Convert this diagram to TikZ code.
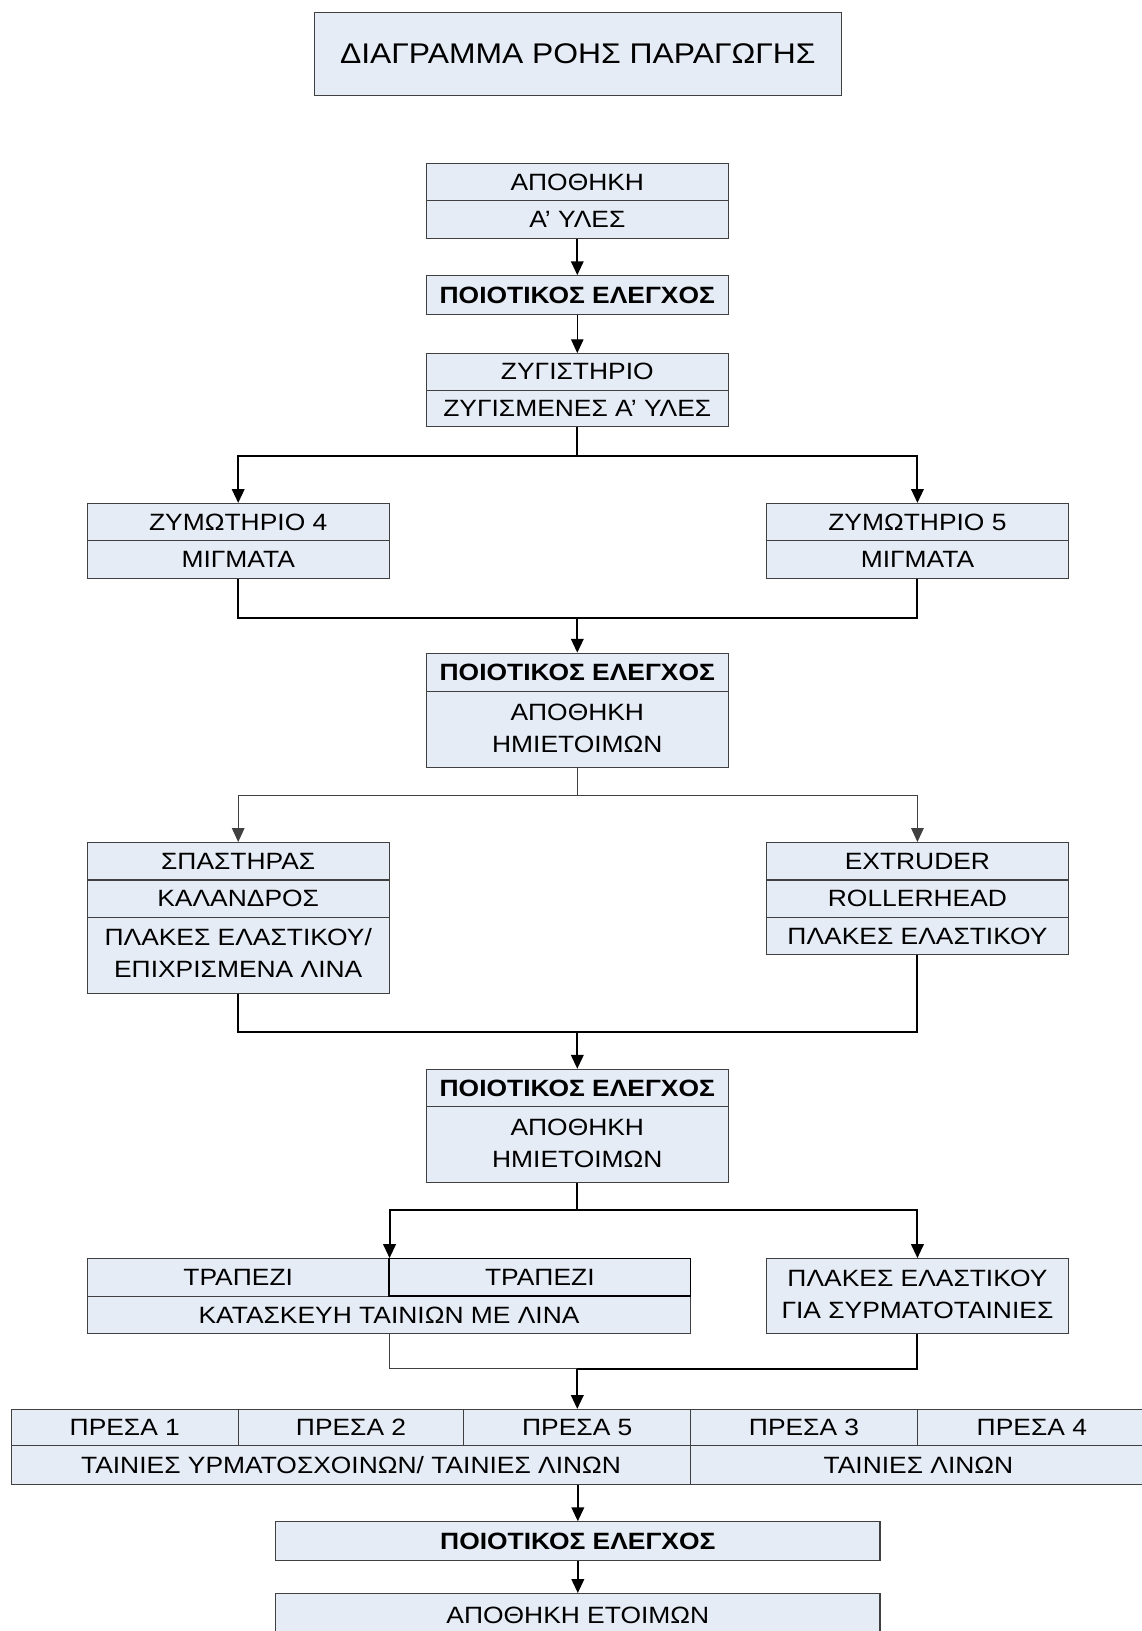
\documentclass[tikz,border=0pt]{standalone}
\usepackage{fontspec}
\setmainfont{Liberation Sans}[FakeStretch=1.12]
\usetikzlibrary{arrows.meta}
\definecolor{cellfill}{HTML}{E6ECF6}
\definecolor{cellline}{HTML}{404040}
\newcommand\twolines[2]{\begin{tabular}{@{}c@{}}#1\\#2\end{tabular}}
\begin{document}
\begin{tikzpicture}[x=0.75pt,y=0.75pt,
  cell/.style={draw=cellline, line width=0.75pt, fill=cellfill, inner sep=0pt,
    font=\fontsize{17}{23.25}\selectfont},
  qcell/.style={cell, font=\fontsize{17}{23.25}\selectfont\bfseries},
  sz/.style 2 args={minimum width=#1*0.75pt, minimum height=#2*0.75pt},
  flowthick/.style={draw=black, line width=1.5pt},
  flowthin/.style={draw=cellline, line width=0.75pt},
  tipend/.style={-{Triangle[length=10pt,width=9pt]}},
  tipboth/.style={{Triangle[length=10pt,width=9pt]}-{Triangle[length=10pt,width=9pt]}}
]
\useasboundingbox (0,0) rectangle (1097,-1568);

% title
\node[cell, sz={507}{80}, font=\fontsize{20.5}{24}\selectfont] (title) at (555.5,-52) {ΔΙΑΓΡΑΜΜΑ ΡΟΗΣ ΠΑΡΑΓΩΓΗΣ};

% raw materials
\node[cell, sz={290}{36}] (b1a) at (555,-175) {ΑΠΟΘΗΚΗ};
\node[cell, sz={290}{36}] (b1b) at (555,-211) {Α’ ΥΛΕΣ};
\node[qcell, sz={290}{37}] (q1) at (555,-283.5) {ΠΟΙΟΤΙΚΟΣ ΕΛΕΓΧΟΣ};
\node[cell, sz={290}{35}] (b2a) at (555,-357.5) {ΖΥΓΙΣΤΗΡΙΟ};
\node[cell, sz={290}{35}] (b2b) at (555,-392.5) {ΖΥΓΙΣΜΕΝΕΣ Α’ ΥΛΕΣ};

% mixers
\node[cell, sz={290}{36}] (b3la) at (229,-502) {ΖΥΜΩΤΗΡΙΟ 4};
\node[cell, sz={290}{36}] (b3lb) at (229,-538) {ΜΙΓΜΑΤΑ};
\node[cell, sz={290}{36}] (b3ra) at (882,-502) {ΖΥΜΩΤΗΡΙΟ 5};
\node[cell, sz={290}{36}] (b3rb) at (882,-538) {ΜΙΓΜΑΤΑ};

% QC 2
\node[qcell, sz={290}{37}] (q2a) at (555,-646.5) {ΠΟΙΟΤΙΚΟΣ ΕΛΕΓΧΟΣ};
\node[cell, sz={290}{73}] (q2b) at (555,-701.5) {\twolines{ΑΠΟΘΗΚΗ}{ΗΜΙΕΤΟΙΜΩΝ}};

% calender / extruder
\node[cell, sz={290}{36}] (b4la) at (229,-828) {ΣΠΑΣΤΗΡΑΣ};
\node[cell, sz={290}{36}] (b4lb) at (229,-864) {ΚΑΛΑΝΔΡΟΣ};
\node[cell, sz={290}{73}] (b4lc) at (229,-918.5) {\twolines{ΠΛΑΚΕΣ ΕΛΑΣΤΙΚΟΥ/}{ΕΠΙΧΡΙΣΜΕΝΑ ΛΙΝΑ}};
\node[cell, sz={290}{36}] (b4ra) at (882,-828) {EXTRUDER};
\node[cell, sz={290}{36}] (b4rb) at (882,-864) {ROLLERHEAD};
\node[cell, sz={290}{36}] (b4rc) at (882,-900) {ΠΛΑΚΕΣ ΕΛΑΣΤΙΚΟΥ};

% QC 3
\node[qcell, sz={290}{36}] (q3a) at (555,-1046) {ΠΟΙΟΤΙΚΟΣ ΕΛΕΓΧΟΣ};
\node[cell, sz={290}{73}] (q3b) at (555,-1100.5) {\twolines{ΑΠΟΘΗΚΗ}{ΗΜΙΕΤΟΙΜΩΝ}};

% tables
\node[cell, sz={290}{36}] (b5la) at (229,-1228) {ΤΡΑΠΕΖΙ};
\node[cell, sz={580}{36}] (b5lc) at (374,-1264) {ΚΑΤΑΣΚΕΥΗ ΤΑΙΝΙΩΝ ΜΕ ΛΙΝΑ};
\node[cell, sz={290}{36}, draw=black, line width=1.1pt] (b5lb) at (519,-1228) {ΤΡΑΠΕΖΙ};
\node[cell, sz={290}{72}] (b5r) at (882,-1246) {\twolines{ΠΛΑΚΕΣ ΕΛΑΣΤΙΚΟΥ}{ΓΙΑ ΣΥΡΜΑΤΟΤΑΙΝΙΕΣ}};

% presses
\node[cell, sz={218}{35}] (p1) at (120,-1372.5) {ΠΡΕΣΑ 1};
\node[cell, sz={217}{35}] (p2) at (337.5,-1372.5) {ΠΡΕΣΑ 2};
\node[cell, sz={218}{35}] (p5) at (555,-1372.5) {ΠΡΕΣΑ 5};
\node[cell, sz={218}{35}] (p3) at (773,-1372.5) {ΠΡΕΣΑ 3};
\node[cell, sz={220}{35}] (p4) at (992,-1372.5) {ΠΡΕΣΑ 4};
\node[cell, sz={653}{37}] (t1) at (337.5,-1408.5) {ΤΑΙΝΙΕΣ ΥΡΜΑΤΟΣΧΟΙΝΩΝ/ ΤΑΙΝΙΕΣ ΛΙΝΩΝ};
\node[cell, sz={438}{37}] (t2) at (883,-1408.5) {ΤΑΙΝΙΕΣ ΛΙΝΩΝ};

% final
\node[qcell, sz={581}{37}] (q4) at (555.5,-1481.5) {ΠΟΙΟΤΙΚΟΣ ΕΛΕΓΧΟΣ};
\node[cell, sz={581}{41}] (b7) at (555.5,-1552.5) {ΑΠΟΘΗΚΗ ΕΤΟΙΜΩΝ};

% junction points
\coordinate (s1) at (555,-438);
\coordinate (m1) at (555,-594);
\coordinate (s2) at (555,-765);
\coordinate (m2) at (555,-992);
\coordinate (s3) at (555,-1163);
\coordinate (m3) at (555,-1316);

% connectors
\draw[flowthick, tipend] (b1b.south) -- (q1.north);
\draw[flowthin, draw=black, tipend] (q1.south) -- (b2a.north);
\draw[flowthick] (b2b.south) -- (s1);
\draw[flowthick, tipboth] (b3la.north) |- (s1) -| (b3ra.north);
\draw[flowthick] (b3lb.south) |- (m1) -| (b3rb.south);
\draw[flowthick, tipend] (m1) -- (q2a.north);
\draw[flowthin] (q2b.south) -- (s2);
\draw[flowthin, tipboth] (b4la.north) |- (s2) -| (b4ra.north);
\draw[flowthick] (b4lc.south) |- (m2) -| (b4rc.south);
\draw[flowthick, tipend] (m2) -- (q3a.north);
\draw[flowthick] (q3b.south) -- (s3);
\draw[flowthick, tipboth] (b5la.north east) |- (s3) -| (b5r.north);
\draw[flowthin] (b5lc.south) |- (m3);
\draw[flowthick] (b5r.south) |- (m3);
\draw[flowthick, tipend] (m3) -- (p5.north);
\draw[flowthick, tipend] (q4.north |- t1.south) -- (q4.north);
\draw[flowthick, tipend] (q4.south) -- (b7.north);
\end{tikzpicture}
\end{document}
